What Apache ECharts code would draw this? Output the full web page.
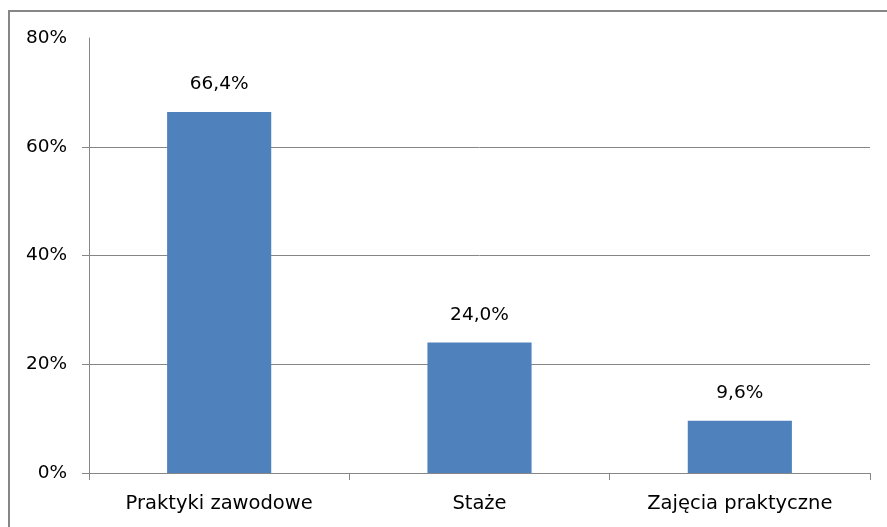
<!DOCTYPE html>
<html>
<head>
<meta charset="utf-8">
<script src="https://cdn.jsdelivr.net/npm/echarts@6/dist/echarts.min.js"></script>
<style>
  html, body { margin: 0; padding: 0; background: #fff; }
  #chart { width: 887px; height: 527px; }
</style>
</head>
<body>
<div id="chart"></div>
<script>
// Forms of practical vocational training (share of respondents)
const categories = ['Praktyki zawodowe', 'Staże', 'Zajęcia praktyczne'];
const shares = [66.4, 24.0, 9.6];
const yTicks = [0, 20, 40, 60, 80];

const grey = '#868686';
const font = 'DejaVu Sans';

const chart = echarts.init(document.getElementById('chart'), null, { renderer: 'canvas' });

chart.setOption({
  animation: false,
  backgroundColor: '#fff',
  graphic: [{
    type: 'rect',
    shape: { x: 9, y: 11, width: 900, height: 540 },
    style: { fill: 'none', stroke: grey, lineWidth: 2 },
    silent: true
  }],
  grid: { left: 89, right: 17, top: 38, bottom: 54 },
  xAxis: {
    type: 'category',
    data: categories,
    axisLine: { lineStyle: { color: grey, width: 1 } },
    axisTick: { show: true, length: 7, alignWithLabel: false, lineStyle: { color: grey } },
    axisLabel: { color: '#000', fontFamily: font, fontSize: 19.5, margin: 21 }
  },
  yAxis: {
    type: 'value',
    min: yTicks[0],
    max: yTicks[yTicks.length - 1],
    interval: 20,
    axisLine: { show: true, lineStyle: { color: grey, width: 1 } },
    axisTick: { show: true, length: 7, inside: false, customValues: yTicks.slice(0, -1), lineStyle: { color: grey } },
    splitLine: { show: true, lineStyle: { color: [grey, grey, grey, grey, 'rgba(0,0,0,0)'], width: 1 } },
    axisLabel: {
      color: '#000', fontFamily: font, fontSize: 18.5, margin: 22,
      formatter: v => v + '%'
    }
  },
  series: [{
    type: 'bar',
    data: shares,
    barWidth: '40%',
    itemStyle: { color: '#4F81BD' },
    label: {
      show: true,
      position: 'top',
      distance: 18,
      color: '#000',
      fontFamily: font,
      fontSize: 18.5,
      formatter: p => p.value.toFixed(1).replace('.', ',') + '%'
    }
  }]
});
</script>
</body>
</html>
